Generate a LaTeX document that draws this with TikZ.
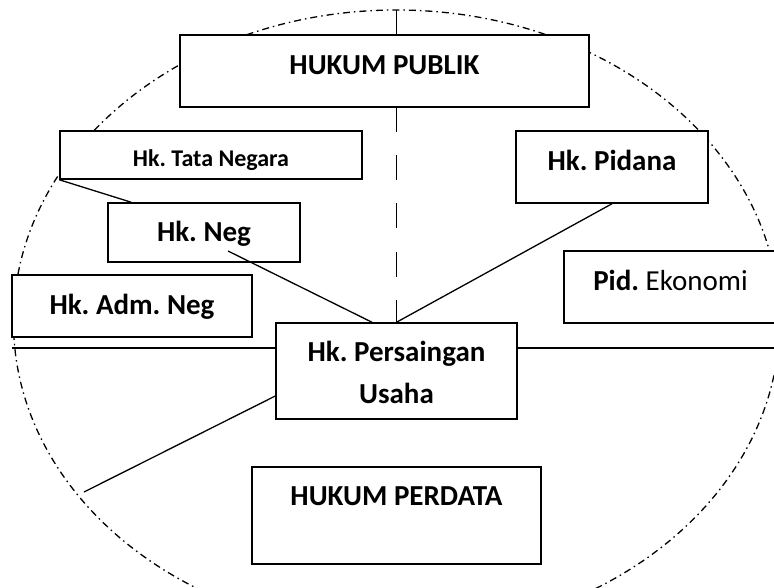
\documentclass[tikz,border=0pt]{standalone}
\usepackage{fontspec}
\setmainfont{Carlito}
\usetikzlibrary{backgrounds}
\frenchspacing

\tikzset{
    box/.style={draw, fill=white, line width=1.5pt, inner sep=0pt, align=center,
        font=\bfseries\fontsize{29}{42}\selectfont},
    link/.style={line width=1.3pt},
}

\begin{document}
\begin{tikzpicture}[x=1pt, y=-1pt]
    \useasboundingbox (0,0) rectangle (774,587);

    % Boxes
    \node[box, minimum width=409pt, minimum height=72pt, text height=20pt, text depth=14pt] (publik) at (384.5,71) {HUKUM PUBLIK};
    \node[box, minimum width=302pt, minimum height=48pt, text height=22pt, text depth=0pt,
        font=\bfseries\fontsize{24}{29}\selectfont] (tata) at (211,155) {Hk. Tata Negara};
    \node[box, minimum width=192pt, minimum height=59pt, text height=20pt, text depth=3pt] (neg) at (204,232.5) {Hk. Neg};
    \node[box, minimum width=240pt, minimum height=62pt, text height=20pt, text depth=4pt] (admneg) at (132,306) {Hk. Adm. Neg};
    \node[box, minimum width=192pt, minimum height=72pt, text height=20pt, text depth=14pt] (pidana) at (612,167) {Hk. Pidana};
    \node[box, minimum width=213pt, minimum height=72pt, text height=20pt, text depth=14pt] (ekonomi) at (670.5,287) {Pid. \mdseries Ekonomi};
    \node[box, minimum width=241pt, minimum height=96pt, text height=64pt, text depth=0pt] (usaha) at (396.5,371) {Hk. Persaingan\\Usaha};
    \node[box, minimum width=289pt, minimum height=97pt, text height=20pt, text depth=41pt] (perdata) at (396.5,515.5) {HUKUM PERDATA};

    % Free ends
    \coordinate (negend) at (228,251);
    \coordinate (lefttip) at (12,348);
    \coordinate (righttip) at (776,348);
    \coordinate (lowtip) at (84,492);
    \coordinate (ctop) at (396.5,10);

    % Links
    \draw[link] (tata.south west) -- ([xshift=24pt]neg.north west);
    \draw[link] (negend) -- ([xshift=-24.5pt]usaha.north);
    \draw[link] (pidana.south) -- (usaha.north);
    \draw[link] (lefttip) -- (lefttip -| usaha.west);
    \draw[link] (usaha.east |- lefttip) -- (righttip);
    \draw[link] ([yshift=-25pt]usaha.west) -- (lowtip);

    % Boundary and axis
    \begin{scope}[on background layer]
        \draw[line width=1.3pt, dash pattern=on 7pt off 4pt on 1.5pt off 4pt]
            (396.5,322) ellipse [x radius=383pt, y radius=312pt];
        \draw[link, dash pattern=on 25pt off 23.3pt] (ctop) -- (usaha.north);
    \end{scope}
\end{tikzpicture}
\end{document}
